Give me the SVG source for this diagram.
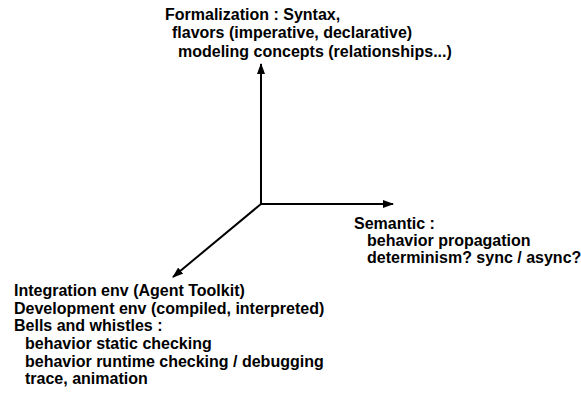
<svg xmlns="http://www.w3.org/2000/svg" width="581" height="394" viewBox="0 0 581 394">
<style>
text{font-family:"Liberation Sans",Arial,sans-serif;font-size:16px;font-weight:bold;fill:#000}
.ax{stroke:#000;stroke-width:2;fill:none}
</style>
<defs>
<marker id="ah" markerUnits="userSpaceOnUse" markerWidth="11" markerHeight="8" refX="10" refY="4" orient="auto">
<path d="M0,0 L11,4 L0,8 z" fill="#000"/>
</marker>
</defs>
<rect width="581" height="394" fill="#fff"/>
<g id="connectors">
<line class="ax" x1="261" y1="204" x2="261" y2="64" marker-end="url(#ah)"/>
<line class="ax" x1="261" y1="204" x2="393" y2="204" marker-end="url(#ah)"/>
<line class="ax" x1="261" y1="204" x2="173" y2="277" marker-end="url(#ah)"/>
</g>
<g id="formalization">
<text x="165" y="20">Formalization : Syntax,</text>
<text x="172" y="38">flavors (imperative, declarative)</text>
<text x="178" y="57">modeling concepts (relationships...)</text>
</g>
<g id="semantic">
<text x="354" y="229">Semantic :</text>
<text x="367" y="246">behavior propagation</text>
<text x="367" y="263">determinism? sync / async?</text>
</g>
<g id="integration">
<text x="14" y="296">Integration env (Agent Toolkit)</text>
<text x="14" y="314">Development env (compiled, interpreted)</text>
<text x="14" y="331">Bells and whistles :</text>
<text x="25" y="349">behavior static checking</text>
<text x="25" y="367">behavior runtime checking / debugging</text>
<text x="25" y="384">trace, animation</text>
</g>
</svg>
